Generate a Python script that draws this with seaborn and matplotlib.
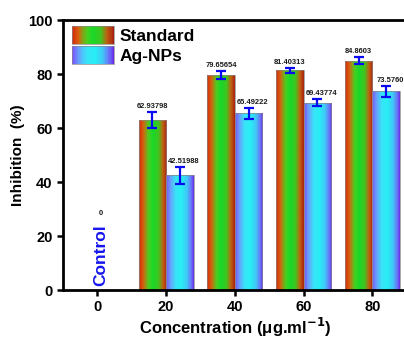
import numpy as np
import pandas as pd
import matplotlib
matplotlib.use("Agg")
import matplotlib.pyplot as plt
import seaborn as sns
from matplotlib.colors import LinearSegmentedColormap
from matplotlib.legend_handler import HandlerBase
from matplotlib.patches import Rectangle

# data
conc = [20, 40, 60, 80]
tick_conc = [0, 20, 40, 60, 80]
standard = [62.93798, 79.65654, 81.40313, 84.8603]
agnps = [42.51988, 65.49222, 69.43774, 73.5760]
standard_err = [3.1, 1.4, 0.9, 1.3]
agnps_err = [3.2, 2.0, 1.4, 2.0]
standard_lbl = ["62.93798", "79.65654", "81.40313", "84.8603"]
agnps_lbl = ["42.51988", "65.49222", "69.43774", "73.5760"]
control_value = 0
groups = ["Standard", "Ag-NPs"]

sns.set_theme(style="ticks")
plt.rcParams['font.family'] = ['Liberation Sans', 'DejaVu Sans']
plt.rcParams['font.weight'] = 'bold'
plt.rcParams['axes.labelweight'] = 'bold'
# plain black axes, text and ticks
for key in ['axes.edgecolor', 'axes.labelcolor', 'text.color', 'xtick.color', 'ytick.color']:
    plt.rcParams[key] = 'black'

cmap_std = LinearSegmentedColormap.from_list("std", [
    (0.0, '#d42a0a'), (0.15, '#d86010'), (0.35, '#48d020'), (0.5, '#18d828'),
    (0.7, '#40c420'), (0.86, '#c06010'), (1.0, '#a82010')])
cmap_ag = LinearSegmentedColormap.from_list("ag", [
    (0.0, '#7850f8'), (0.15, '#6a9cfc'), (0.35, '#38e4f8'), (0.55, '#28eef4'),
    (0.75, '#40c8f8'), (0.9, '#6878f8'), (1.0, '#6a2ce8')])
cmaps = {"Standard": cmap_std, "Ag-NPs": cmap_ag}
label_shift = {"Standard": 0, "Ag-NPs": 3.0}

df = pd.DataFrame({
    "conc": conc * 2,
    "value": standard + agnps,
    "group": ["Standard"] * len(conc) + ["Ag-NPs"] * len(conc),
})

fig = plt.figure(figsize=(4.04, 3.4), dpi=100)
ax = fig.add_axes([0.156, 0.147, 0.851, 0.794])

sns.barplot(data=df, x="conc", y="value", hue="group", hue_order=groups,
            native_scale=True, width=0.8, errorbar=None, legend=False, ax=ax,
            edgecolor="#888888", linewidth=0.5)

grad = np.linspace(0, 1, 256).reshape(1, -1)
errs = standard_err + agnps_err
lbls = standard_lbl + agnps_lbl
bars = ax.patches[:len(df)]
for i, p in enumerate(bars):
    g = groups[i // len(conc)]
    x0, w, h = p.get_x(), p.get_width(), p.get_height()
    p.set_facecolor("none")
    im = ax.imshow(grad, cmap=cmaps[g], aspect="auto",
                   extent=[x0, x0 + w, 0, h], zorder=p.get_zorder() - 0.1)
    im.set_clip_path(p)
    xc = x0 + w / 2
    ax.errorbar(xc, h, yerr=errs[i], color="#0a0af0", lw=1.6,
                capsize=3.3, capthick=1.6, zorder=5)
    ax.annotate(lbls[i], (xc, h + errs[i]), xytext=(label_shift[g], 1.5),
                textcoords="offset points", ha="center", va="bottom",
                fontsize=5.4, fontweight="bold", color="#1a1a1a", zorder=10)

# control
ax.text(1, 1.5, "Control", rotation=90, ha="center", va="bottom",
        fontsize=12.5, fontweight="bold", color="#1515ee")
ax.text(1, 27, str(control_value), ha="center", va="bottom",
        fontsize=5.4, fontweight="bold", color="#1a1a1a")

ax.set_xlim(-10, 90)
ax.set_ylim(0, 100)
ax.set_xticks(tick_conc)
ax.set_yticks([0, 20, 40, 60, 80, 100])
ax.tick_params(axis="both", labelsize=10.5, width=1.8, length=4, direction="out")
for lab in ax.get_xticklabels() + ax.get_yticklabels():
    lab.set_fontweight("bold")
for s in ax.spines.values():
    s.set_linewidth(2)
    s.set_visible(True)
ax.set_xlabel("Concentration (\u03bcg.ml$^{\\mathbf{-1}}$)", fontsize=12, labelpad=1)
ax.set_ylabel("Inhibition  (%)", fontsize=11, labelpad=2)


class GradientHandler(HandlerBase):
    def create_artists(self, legend, orig_handle, xdescent, ydescent,
                       width, height, fontsize, trans):
        cm = cmaps[orig_handle.get_label()]
        n = 40
        arts = []
        for k in range(n):
            r = Rectangle((-xdescent + width * k / n, -ydescent), width / n + 0.3, height,
                          facecolor=cm(k / (n - 1)), edgecolor="none", transform=trans)
            arts.append(r)
        arts.append(Rectangle((-xdescent, -ydescent), width, height, facecolor="none",
                              edgecolor="#888888", lw=0.5, transform=trans))
        return arts


handles = [Rectangle((0, 0), 1, 1, label=g) for g in groups]
ax.legend(handles=handles, labels=groups, handler_map={Rectangle: GradientHandler()},
          loc="upper left", bbox_to_anchor=(0.026, 0.978), frameon=False,
          borderpad=0, borderaxespad=0, handlelength=2.4, handleheight=1.25,
          labelspacing=0.1, handletextpad=0.35, prop={"size": 12.5, "weight": "bold"})

fig.savefig("out.png", dpi=100)
